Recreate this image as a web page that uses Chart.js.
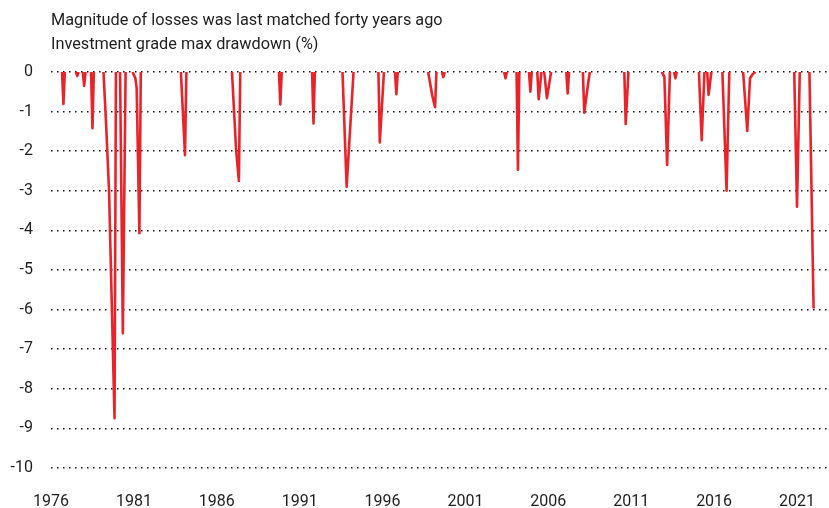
<!DOCTYPE html>
<html>
<head>
<meta charset="utf-8">
<script src="https://cdn.jsdelivr.net/npm/chart.js@4.4.1/dist/chart.umd.min.js"></script>
<style>
  html, body { margin: 0; padding: 0; background: #fff; }
</style>
</head>
<body>
<canvas id="chart" width="829" height="508"></canvas>
<script>
const titleLines = ['Magnitude of losses was last matched forty years ago', 'Investment grade max drawdown (%)'];
const xTicks = [1976, 1981, 1986, 1991, 1996, 2001, 2006, 2011, 2016, 2021];

// each drawdown episode starts and ends at 0; flat 0-to-0 stretches are not drawn
const months = [
  '1976-09', '1976-10', '1976-11',
  '1977-07', '1977-08', '1977-09',
  '1977-12', '1978-01', '1978-02',
  '1978-06', '1978-07', '1978-08',
  '1979-03', '1979-04', '1979-05', '1979-06', '1979-07', '1979-11', '1979-12',
  '1980-03', '1980-05', '1980-07',
  '1980-12', '1981-02', '1981-03', '1981-05', '1981-06',
  '1983-11', '1984-02', '1984-03',
  '1986-12', '1987-03', '1987-05', '1987-06',
  '1989-10', '1989-11', '1989-12',
  '1991-10', '1991-11', '1991-12',
  '1993-08', '1993-11', '1994-04',
  '1995-10', '1995-11', '1996-02',
  '1996-10', '1996-11', '1996-12',
  '1998-10', '1999-01', '1999-03', '1999-04',
  '1999-08', '1999-09', '1999-10',
  '2003-05', '2003-06', '2003-07',
  '2004-02', '2004-03', '2004-04',
  '2004-11', '2004-12', '2005-01',
  '2005-05', '2005-06', '2005-08',
  '2005-10', '2005-12', '2006-03',
  '2007-02', '2007-03', '2007-04',
  '2008-02', '2008-03', '2008-05', '2008-07',
  '2010-08', '2010-09', '2010-11',
  '2012-11', '2013-01', '2013-03', '2013-05',
  '2013-08', '2013-09', '2013-10',
  '2015-02', '2015-04', '2015-06',
  '2015-08', '2015-09', '2015-11',
  '2016-07', '2016-10', '2016-12',
  '2017-10', '2018-01', '2018-03', '2018-05', '2018-07',
  '2020-11', '2021-01', '2021-03',
  '2021-10', '2022-01'
];
const drawdown = [
  0, -0.81, 0,
  0, -0.1, 0,
  0, -0.35, 0,
  0, -1.42, 0,
  0, -0.7, -1.4, -2.2, -2.98, -8.74, 0,
  0, -6.6, 0,
  0, -0.15, -0.4, -4.07, 0,
  0, -2.1, 0,
  0, -1.97, -2.75, 0,
  0, -0.82, 0,
  0, -1.3, 0,
  0, -2.9, 0,
  0, -1.78, 0,
  0, -0.56, 0,
  0, -0.6, -0.89, 0,
  0, -0.13, 0,
  0, -0.16, 0,
  0, -2.47, 0,
  0, -0.5, 0,
  0, -0.69, 0,
  0, -0.66, 0,
  0, -0.54, 0,
  0, -1.03, -0.5, 0,
  0, -1.31, 0,
  0, -0.12, -2.35, 0,
  0, -0.16, 0,
  0, -1.72, 0,
  0, -0.58, 0,
  0, -3.0, 0,
  0, -1.49, -0.16, -0.05, 0,
  0, -3.4, 0,
  0, -5.97
];

const toYear = s => {
  const [y, m] = s.split('-').map(Number);
  return y + (m - 1) / 12;
};
const points = months.map((m, i) => ({ x: toYear(m), y: drawdown[i] }));

const FONT = 'Roboto, "Open Sans", sans-serif';
const TXT = '#1e1e1e';

new Chart(document.getElementById('chart'), {
  type: 'line',
  data: {
    datasets: [{
      data: points,
      borderColor: '#e8232a',
      borderWidth: 2.6,
      borderJoinStyle: 'round',
      pointRadius: 0,
      tension: 0,
      fill: false,
      segment: {
        borderColor: ctx => (ctx.p0.parsed.y === 0 && ctx.p1.parsed.y === 0) ? 'rgba(0,0,0,0)' : undefined
      }
    }]
  },
  options: {
    responsive: false,
    animation: false,
    devicePixelRatio: 1,
    layout: { padding: 0 },
    plugins: {
      legend: { display: false },
      tooltip: { enabled: false },
      title: {
        display: true,
        text: titleLines,
        align: 'start',
        fullSize: false,
        color: TXT,
        font: { family: FONT, size: 16.3, weight: 'normal', lineHeight: 1.45 },
        padding: { top: 9, bottom: 15.7 }
      }
    },
    scales: {
      x: {
        type: 'linear',
        min: 1976,
        max: 2022.93,
        grid: { display: false },
        border: { display: false },
        afterBuildTicks: s => { s.ticks = xTicks.map(v => ({ value: v })); },
        afterFit: s => { s.height = 40; s.paddingLeft = 0; s.paddingRight = 0; },
        ticks: {
          color: TXT,
          font: { family: FONT, size: 16 },
          padding: 16,
          maxRotation: 0,
          autoSkip: false,
          callback: v => String(v)
        }
      },
      y: {
        min: -10,
        max: 0,
        grid: { color: '#111', lineWidth: 1.5, drawTicks: false },
        border: { display: false, dash: [1.5, 4.5] },
        afterFit: s => { s.width = 51; },
        ticks: {
          stepSize: 1,
          color: TXT,
          font: { family: FONT, size: 16 },
          padding: 18
        }
      }
    }
  }
});
</script>
</body>
</html>
